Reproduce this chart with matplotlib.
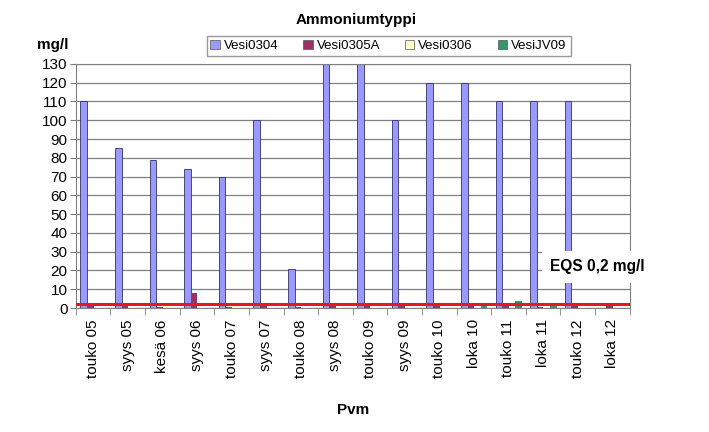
import numpy as np
import matplotlib.pyplot as plt

plt.rcParams['font.family'] = ['Liberation Sans', 'DejaVu Sans']

dates = ['touko 05', 'syys 05', 'kesä 06', 'syys 06', 'touko 07', 'syys 07',
         'touko 08', 'syys 08', 'touko 09', 'syys 09', 'touko 10', 'loka 10',
         'touko 11', 'loka 11', 'touko 12', 'loka 12']
vesi0304 = [110, 85, 79, 74, 70, 100, 21, 130, 130, 100, 120, 120, 110, 110, 110, 0]
vesi0305a = [1, 1, 0.5, 8, 0.5, 1, 0.5, 1.5, 1.5, 1, 1, 1, 1, 0.5, 1, 1]
vesi0306 = [0.5, 0.5, 1, 0.5, 1, 0.5, 0.5, 0.3, 0.3, 0.5, 0.3, 0.3, 0.3, 0.3, 0.3, 0.3]
vesijv09 = [0, 0, 0, 0, 0, 0, 0, 0, 0, 0, 0, 1, 4, 1, 0, 0]
eqs = 2

names = ['Vesi0304', 'Vesi0305A', 'Vesi0306', 'VesiJV09']
colors = ['#9999ff', '#993366', '#ffffcc', '#339966']
series = [vesi0304, vesi0305a, vesi0306, vesijv09]

fig = plt.figure(figsize=(7.09, 4.32), dpi=100)
ax = fig.add_axes([0.107, 0.287, 0.781, 0.565])

x = np.arange(len(dates))
w = 0.19
for i, (s, c, n) in enumerate(zip(series, colors, names)):
    ax.bar(x - 0.5 + 0.13 + w * i, s, width=w, align='edge', color=c,
           edgecolor='#333366' if i == 0 else 'none', linewidth=0.6,
           label=n, zorder=2)

ax.axhline(eqs, color='#e8191e', linewidth=2.2, zorder=3)

ax.set_xlim(-0.5, len(dates) - 0.5)
ax.set_ylim(0, 130)
ax.set_yticks(np.arange(0, 131, 10))
ax.yaxis.grid(True, color='#808080', linewidth=0.9, zorder=0)
ax.set_axisbelow(True)
ax.set_xticks(x)
ax.set_xticklabels(dates, rotation=90, fontsize=11)
ax.tick_params(axis='x', length=0, pad=8)
ax.set_xticks(np.arange(-0.5, len(dates)), minor=True)
ax.tick_params(axis='x', which='minor', length=5, color='#808080')
ax.tick_params(axis='y', labelsize=11, length=4, color='#808080', pad=2)
for sp in ['top', 'right', 'left', 'bottom']:
    ax.spines[sp].set_color('#808080')

ax.set_xlabel('Pvm', fontsize=11, fontweight='bold', labelpad=18)
fig.text(0.052, 0.895, 'mg/l', fontsize=11, fontweight='bold', ha='left', va='center')
fig.text(0.502, 0.953, 'Ammoniumtyppi', fontsize=11, fontweight='bold', ha='center', va='center')

ax.text(13.2, 22, 'EQS 0,2 mg/l', fontsize=11.2, fontweight='bold', ha='left', va='center',
        bbox=dict(facecolor='white', edgecolor='none', pad=6), zorder=5, clip_on=False)

leg = fig.legend(loc='center', bbox_to_anchor=(0.548, 0.894), ncol=4, fontsize=9.5,
                 frameon=True, fancybox=False, edgecolor='#808080', handlelength=0.7,
                 handleheight=0.7, handletextpad=0.3, columnspacing=1.9,
                 borderpad=0.3)
for h in leg.legend_handles:
    h.set_edgecolor('#555555')
    h.set_linewidth(0.5)

plt.savefig('out.png', dpi=100)
